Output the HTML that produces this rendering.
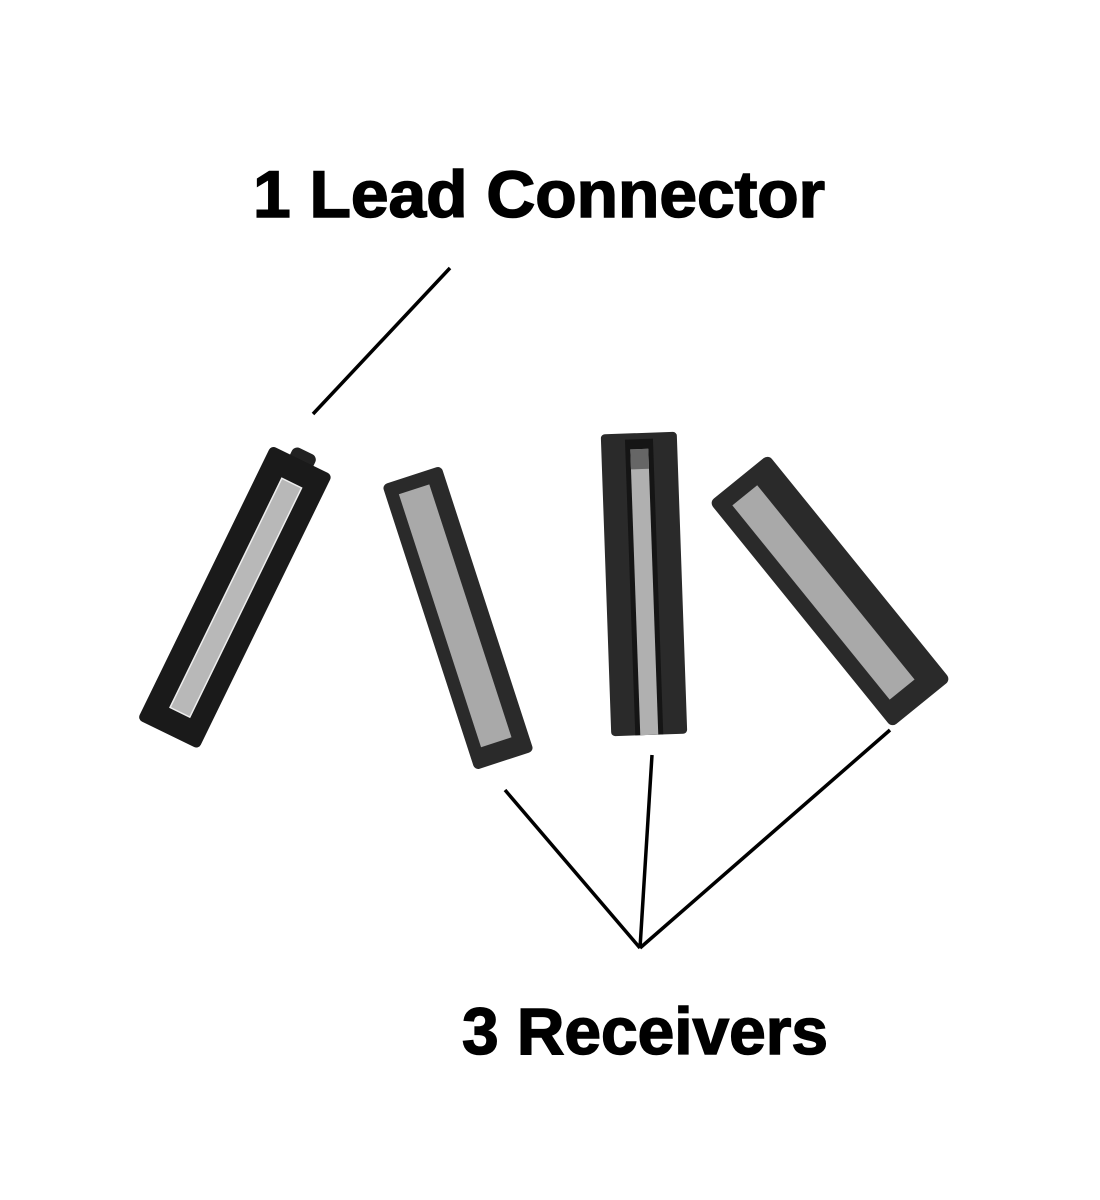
<!DOCTYPE html>
<html><head><meta charset="utf-8"><style>
html,body{margin:0;padding:0;background:#fff;width:1100px;height:1200px;overflow:hidden}
svg{display:block}
text{font-family:"Liberation Sans",sans-serif;font-weight:bold;fill:#000;stroke:#000;stroke-width:1.5}
</style></head><body>
<svg width="1100" height="1200" viewBox="0 0 1100 1200">
<text x="253" y="217" font-size="66" textLength="572" lengthAdjust="spacingAndGlyphs">1 Lead Connector</text>
<text x="462" y="1054" font-size="66" textLength="366" lengthAdjust="spacingAndGlyphs">3 Receivers</text>
<g stroke="#000" stroke-width="3.5" fill="none">
<line x1="450" y1="268" x2="313" y2="414"/>
<line x1="505" y1="790" x2="640" y2="948"/>
<line x1="652" y1="755" x2="640" y2="948"/>
<line x1="890" y1="730" x2="640" y2="948"/>
</g>
<!-- obj1 -->
<g transform="translate(236,595) rotate(26)">
<rect x="-13" y="-160" width="26" height="16" rx="6" fill="#222"/>
<rect x="-34" y="-150" width="68" height="305" rx="5" fill="#1a1a1a"/>
<rect x="-10" y="-125" width="22" height="255" fill="#b8b8b8" stroke="#eee" stroke-width="1.5"/>
</g>
<!-- obj2 -->
<g transform="translate(458,618) rotate(-18)">
<rect x="-31" y="-150" width="62" height="300" rx="5" fill="#2a2a2a"/>
<rect x="-18" y="-136" width="32" height="266" fill="#a9a9a9"/>
</g>
<!-- obj3 -->
<g transform="translate(644,584) rotate(-2)">
<rect x="-38" y="-151" width="76" height="302" rx="4" fill="#2a2a2a"/>
<rect x="-14" y="-145" width="28" height="296" fill="#151515"/>
<rect x="-9" y="-135" width="18" height="286" fill="#b0b0b0"/>
<rect x="-9" y="-135" width="18" height="20" fill="#666"/>
</g>
<!-- obj4 -->
<g transform="translate(830,591) rotate(-39)">
<rect x="-38" y="-145" width="76" height="290" rx="6" fill="#2a2a2a"/>
<rect x="-22" y="-128" width="32" height="250" fill="#a9a9a9"/>
</g>
</svg>
</body></html>
